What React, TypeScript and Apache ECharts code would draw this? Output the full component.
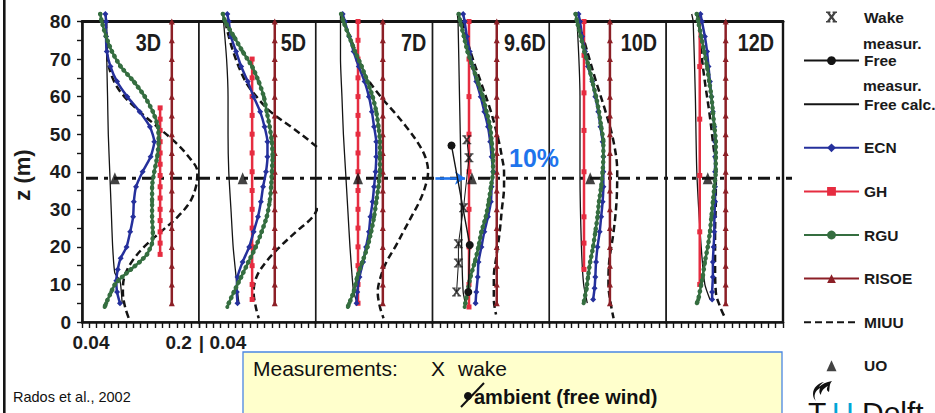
import React, { useEffect, useRef } from 'react';
import * as echarts from 'echarts';

// ---------- data ----------
const PANELS = ['3D', '5D', '7D', '9.6D', '10D', '12D'];
const Y_MIN = 0;
const Y_MAX = 80;
const X_MIN = 0.04;
const X_MAX = 0.2;
const HUB_Z = 38.3;
const HUB_X = [0, 1];

type Pt = [number, number]; // [turbulence intensity, z (m)]

const ECN_3D: Pt[] = [[0.072,82],[0.073,80],[0.073,76],[0.074,72],[0.079,68],[0.088,64],[0.102,60],[0.119,56],[0.133,52],[0.139,48],[0.134,44],[0.123,40],[0.114,36],[0.111,32],[0.110,28],[0.106,24],[0.101,20],[0.093,17],[0.089,14],[0.087,11],[0.088,8],[0.092,5]];
const ECN_5D: Pt[] = [[0.079,82],[0.081,80],[0.084,76],[0.091,72],[0.098,68],[0.107,64],[0.115,60],[0.124,56],[0.130,52],[0.134,48],[0.134,44],[0.132,40],[0.128,36],[0.125,32],[0.121,28],[0.115,24],[0.109,20],[0.100,16],[0.093,12],[0.092,8],[0.093,5]];
const ECN_7D: Pt[] = [[0.077,82],[0.080,80],[0.086,76],[0.092,72],[0.099,68],[0.107,64],[0.113,60],[0.117,56],[0.120,52],[0.123,48],[0.123,44],[0.122,40],[0.120,36],[0.118,32],[0.115,28],[0.113,24],[0.109,20],[0.105,16],[0.100,12],[0.097,8],[0.096,5]];
const ECN_96D: Pt[] = [[0.082,82],[0.084,80],[0.087,76],[0.091,72],[0.095,68],[0.100,64],[0.106,60],[0.111,56],[0.116,52],[0.119,48],[0.121,44],[0.123,40],[0.121,36],[0.120,32],[0.116,28],[0.111,24],[0.107,20],[0.103,16],[0.102,12],[0.100,8],[0.099,5]];
const ECN_10D: Pt[] = [[0.080,82],[0.082,80],[0.085,76],[0.089,72],[0.093,68],[0.099,64],[0.103,60],[0.107,56],[0.110,52],[0.113,48],[0.114,44],[0.114,40],[0.114,36],[0.113,32],[0.111,28],[0.109,24],[0.106,20],[0.104,16],[0.103,12],[0.102,9],[0.100,6]];
const ECN_12D: Pt[] = [[0.087,82],[0.089,80],[0.093,76],[0.096,72],[0.098,68],[0.100,64],[0.102,60],[0.104,56],[0.106,52],[0.107,48],[0.107,44],[0.107,40],[0.107,36],[0.107,32],[0.106,28],[0.106,24],[0.105,20],[0.104,16],[0.104,12],[0.103,8],[0.103,6]];

const RGU_3D: Pt[] = [[0.065,82],[0.067,80],[0.073,76],[0.081,72],[0.093,68],[0.111,64],[0.126,60],[0.137,56],[0.144,52],[0.145,48],[0.143,44],[0.139,40],[0.136,36],[0.136,32],[0.136,28],[0.137,24],[0.136,21],[0.129,18],[0.119,16],[0.107,14],[0.095,12],[0.085,10],[0.080,8],[0.073,5],[0.071,4]];
const RGU_5D: Pt[] = [[0.073,82],[0.076,80],[0.088,76],[0.100,72],[0.113,68],[0.122,64],[0.129,60],[0.133,56],[0.137,52],[0.140,48],[0.141,44],[0.140,40],[0.139,36],[0.137,32],[0.133,28],[0.126,24],[0.118,20],[0.108,16],[0.098,12],[0.088,8],[0.081,5],[0.079,4]];
const RGU_7D: Pt[] = [[0.075,82],[0.078,80],[0.086,76],[0.094,72],[0.103,68],[0.111,64],[0.118,60],[0.123,56],[0.126,52],[0.128,48],[0.128,44],[0.128,40],[0.126,36],[0.123,32],[0.120,28],[0.116,24],[0.111,20],[0.104,16],[0.097,12],[0.092,8],[0.086,5],[0.084,4]];
const RGU_96D: Pt[] = [[0.076,82],[0.078,80],[0.083,76],[0.088,72],[0.095,68],[0.102,64],[0.109,60],[0.114,56],[0.119,52],[0.121,48],[0.123,44],[0.123,40],[0.120,36],[0.117,32],[0.113,28],[0.107,24],[0.103,20],[0.098,16],[0.092,12],[0.088,8],[0.085,5],[0.084,4]];
const RGU_10D: Pt[] = [[0.076,82],[0.078,80],[0.083,76],[0.088,72],[0.094,68],[0.099,64],[0.104,60],[0.108,56],[0.111,52],[0.114,48],[0.114,44],[0.113,40],[0.111,36],[0.108,32],[0.106,28],[0.103,24],[0.100,20],[0.096,16],[0.093,12],[0.091,9],[0.087,5]];
const RGU_12D: Pt[] = [[0.082,82],[0.084,80],[0.088,76],[0.092,72],[0.096,68],[0.099,64],[0.102,60],[0.104,56],[0.106,52],[0.108,48],[0.108,44],[0.108,40],[0.106,36],[0.104,32],[0.102,28],[0.100,24],[0.097,20],[0.093,16],[0.090,12],[0.088,10],[0.084,6],[0.082,5]];

const FREE_3D: Pt[] = [[0.073,82],[0.074,76],[0.074,70],[0.075,60],[0.076,50],[0.078,40],[0.080,30],[0.082,20],[0.085,13],[0.092,11],[0.095,5]];
const FREE_5D: Pt[] = [[0.073,82],[0.078,70],[0.080,60],[0.080,50],[0.081,40],[0.084,30],[0.087,20],[0.091,12],[0.093,8],[0.095,5]];
const FREE_7D: Pt[] = [[0.074,82],[0.074,70],[0.076,60],[0.078,50],[0.081,40],[0.084,30],[0.087,20],[0.090,12],[0.092,8],[0.097,5]];
const FREE_96D: Pt[] = [[0.074,82],[0.075,80],[0.077,60],[0.079,40],[0.080,20],[0.082,8],[0.085,5]];
const FREE_10D: Pt[] = [[0.076,82],[0.078,80],[0.082,60],[0.082,40],[0.084,20],[0.087,10],[0.092,5]];
const FREE_12D: Pt[] = [[0.075,82],[0.077,80],[0.080,60],[0.082,40],[0.088,20],[0.093,10],[0.100,6]];

const MIUU_3D: Pt[] = [[0.073,80],[0.075,70],[0.084,64],[0.098,60],[0.119,56],[0.143,52],[0.167,48],[0.186,44],[0.198,40],[0.196,36],[0.188,32],[0.171,28],[0.148,24],[0.125,20],[0.108,16],[0.098,12],[0.096,8],[0.099,4],[0.106,0]];
const MIUU_5D: Pt[] = [[0.076,80],[0.087,72],[0.104,64],[0.119,60],[0.138,56],[0.166,52],[0.193,48],[0.215,44],[0.223,40],[0.219,36],[0.207,32],[0.196,28],[0.173,24],[0.151,20],[0.132,16],[0.119,12],[0.115,8],[0.118,4],[0.122,1]];
const MIUU_7D: Pt[] = [[0.078,80],[0.095,72],[0.107,66],[0.129,60],[0.147,56],[0.164,52],[0.179,48],[0.190,44],[0.194,40],[0.190,36],[0.182,32],[0.171,28],[0.160,24],[0.149,20],[0.137,16],[0.129,12],[0.125,8],[0.128,4],[0.133,1]];
const MIUU_96D: Pt[] = [[0.081,80],[0.092,72],[0.106,64],[0.120,56],[0.131,48],[0.135,44],[0.138,40],[0.138,36],[0.135,30],[0.132,24],[0.128,18],[0.124,12],[0.124,6],[0.127,2]];
const MIUU_10D: Pt[] = [[0.080,80],[0.092,72],[0.104,64],[0.117,56],[0.128,48],[0.133,40],[0.132,32],[0.128,24],[0.122,16],[0.121,10],[0.124,5],[0.128,1]];
const MIUU_12D: Pt[] = [[0.084,82],[0.088,72],[0.093,64],[0.099,56],[0.104,48],[0.108,40],[0.108,32],[0.107,24],[0.107,16],[0.108,8],[0.114,4],[0.121,1]];

// vertical model profiles: one value per panel, markers at these heights
const RISOE_TI = [0.163, 0.144, 0.132, 0.128, 0.123, 0.1215];
const RISOE_Z = [5, 10, 15, 20, 25, 30, 35, 40, 45, 50, 55, 60, 65, 70, 75, 80];
const GH_TI = [0.147, 0.113, 0.098, 0.090, 0.0875, 0.086];
const GH_Z_3D = [57, 54, 51, 48, 45, 42, 39, 36, 33, 30, 27, 24, 21, 18];
const GH_Z_5D = [70, 65, 60, 55, 50, 45, 40, 35, 30, 25, 20, 15, 10, 6];
const GH_Z_7D = [80, 75, 70, 65, 60, 55, 50, 45, 40, 35, 30, 25, 20, 15, 10, 5];
const GH_Z_96D = [80, 70, 60, 50, 40, 30, 20, 10, 4];
const GH_Z_10D = [80, 71, 61, 51, 40, 28, 21, 14];
const GH_Z_12D = [80, 68, 54, 39, 24, 10];
const UO_TI = [0.085, 0.100, 0.098, 0.094, 0.096, 0.097];

// measurements at 9.6D
const WAKE_96D: Pt[] = [[0.087,48.5],[0.090,43.7],[0.0825,30.4],[0.0755,20.8],[0.0755,15.7],[0.073,8]];
const FREE_MEAS_96D: Pt[] = [[0.066,47],[0.091,20.5],[0.089,8]];
const ARROW_FROM = 0.044;
const ARROW_TO = 0.0845;

const LEGEND_NAMES = ['Wake measur.', 'Free measur.', 'Free calc.', 'ECN', 'GH', 'RGU', 'RISOE', 'MIUU', 'UO'];
const LEGEND_SHORT: Record<string, string> = { 'Wake measur.': 'Wake', 'Free measur.': 'Free' };

const ECN = [ECN_3D, ECN_5D, ECN_7D, ECN_96D, ECN_10D, ECN_12D];
const RGU = [RGU_3D, RGU_5D, RGU_7D, RGU_96D, RGU_10D, RGU_12D];
const FREE = [FREE_3D, FREE_5D, FREE_7D, FREE_96D, FREE_10D, FREE_12D];
const MIUU = [MIUU_3D, MIUU_5D, MIUU_7D, MIUU_96D, MIUU_10D, MIUU_12D];
const GH_Z = [GH_Z_3D, GH_Z_5D, GH_Z_7D, GH_Z_96D, GH_Z_10D, GH_Z_12D];

// ---------- layout / style ----------
const PLOT_LEFT = 82;
const PANEL_W = 116.83;
const PLOT_TOP = 21.5;
const PLOT_H = 300.5;
const PANEL_LABEL_X = [148.5, 293.5, 413.7, 525, 639, 756];
const SANS = '"Liberation Sans", Arial, Helvetica, sans-serif';
const C_ECN = '#25309c';
const C_GH = '#e62c40';
const C_RGU = '#356e40';
const C_RISOE = '#8c1f26';
const C_BLK = '#141414';
const C_BLUE = '#1f74ec';

const X_PATH = 'path://M0,0 L2.6,0 L5,3.4 L7.4,0 L10,0 L6.4,5 L10,10 L7.4,10 L5,6.6 L2.6,10 L0,10 L3.6,5 Z M0,0 L4,0 L4,1.3 L0,1.3 Z M6,0 L10,0 L10,1.3 L6,1.3 Z M0,8.7 L4,8.7 L4,10 L0,10 Z M6,8.7 L10,8.7 L10,10 L6,10 Z';
const TRI_PATH = 'path://M5,0 L10,11 L0,11 Z';

const FLAME_D = 'M4 20 C1 15 3 10 8 7 C7 10 7 12 9 14 C9 10 12 7 16 5 C14 8 15 10 17 11 C18 7 17 3 20 0 C14 1 10 3 7 6 C8 4 10 2 12 1 C6 2 1 7 1 13 C1 16 2 18 4 20 Z';
let flameRegistered = false;
function ensureFlame() {
  if (flameRegistered) return;
  echarts.graphic.registerShape('tuflame', echarts.graphic.extendPath(FLAME_D, {}) as any);
  flameRegistered = true;
}

const near = (a: number, b: number) => Math.abs(a - b) < 1e-6;

function buildOption(): any {
  const grids: any[] = PANELS.map((_, i) => ({
    left: PLOT_LEFT + i * PANEL_W, top: PLOT_TOP, width: PANEL_W, height: PLOT_H,
    show: true, borderColor: '#1a1a1a', borderWidth: 1.4, backgroundColor: 'transparent',
    containLabel: false, outerBoundsMode: 'none',
  }));
  grids.push({ left: 86, top: PLOT_TOP, width: 706, height: PLOT_H, show: false, containLabel: false, outerBoundsMode: 'none' });

  const labelFont = { fontFamily: SANS, fontWeight: 'bold', fontSize: 19, color: '#1c1c1c' };

  const xAxes: any[] = [];
  PANELS.forEach((_, i) => {
    xAxes.push({
      type: 'value', gridIndex: i, position: 'bottom', min: X_MIN, max: X_MAX, interval: 0.01,
      axisLine: { show: true, onZero: false, lineStyle: { color: C_BLK, width: 2.6 } },
      axisTick: { show: true, inside: false, length: 6, lineStyle: { color: C_BLK, width: 1.4 } },
      splitLine: { show: false },
      axisLabel: {
        show: i < 2, margin: 11, ...labelFont,
        alignMinLabel: i === 0 ? 'center' : 'left', alignMaxLabel: 'right',
        formatter: (v: number) => {
          if (i === 0 && near(v, X_MIN)) return '{l|0.04}';
          if (i === 0 && near(v, X_MAX)) return '{r|0.2}';
          if (i === 1 && near(v, X_MIN)) return '{n|| 0.04}';
          return '';
        },
        rich: {
          l: { ...labelFont, padding: [0, 0, 0, 18] },
          r: { ...labelFont, padding: [0, 7, 0, 0] },
          n: { ...labelFont },
        },
      },
    });
  });
  PANELS.forEach((_, i) => {
    xAxes.push({
      type: 'value', gridIndex: i, position: 'top', min: X_MIN, max: X_MAX,
      axisLine: { show: true, onZero: false, lineStyle: { color: C_BLK, width: 3 } },
      axisTick: { show: false }, axisLabel: { show: false }, splitLine: { show: false },
    });
  });
  xAxes.push({ type: 'value', gridIndex: 6, min: 0, max: 1, show: false });

  const yAxes: any[] = PANELS.map((_, i) => ({
    type: 'value', gridIndex: i, min: Y_MIN, max: Y_MAX, interval: 5, show: i === 0, position: 'left',
    axisLine: { show: true, onZero: false, lineStyle: { color: C_BLK, width: 2.6 } },
    axisTick: { show: true, inside: false, length: 5, lineStyle: { color: C_BLK, width: 1.4 } },
    splitLine: { show: false },
    axisLabel: { show: true, margin: 11, ...labelFont, formatter: (v: number) => (v % 10 === 0 ? String(v) : '') },
  }));
  yAxes.push({ type: 'value', gridIndex: 6, min: Y_MIN, max: Y_MAX, show: false });
  yAxes.push({
    type: 'value', gridIndex: 5, min: Y_MIN, max: Y_MAX, position: 'right',
    axisLine: { show: true, onZero: false, lineStyle: { color: C_BLK, width: 2.4 } },
    axisTick: { show: false }, axisLabel: { show: false }, splitLine: { show: false },
  });

  const series: any[] = [];
  series.push({
    type: 'line', name: 'hub', xAxisIndex: 12, yAxisIndex: 6, silent: true, symbol: 'none',
    data: HUB_X.map((x) => [x, HUB_Z]),
    lineStyle: { color: C_BLK, width: 3, type: [12, 6, 4, 6] }, z: 1,
  });

  PANELS.forEach((_, i) => {
    const base = { xAxisIndex: i, yAxisIndex: i, clip: false };
    series.push({
      ...base, type: 'line', name: 'Free calc.', data: FREE[i], symbol: 'none', smooth: 0.2,
      lineStyle: { color: C_BLK, width: 1.3 }, itemStyle: { color: C_BLK }, z: 2,
    });
    series.push({
      ...base, type: 'line', name: 'MIUU', data: MIUU[i], symbol: 'none', smooth: 0.35,
      lineStyle: { color: C_BLK, width: 2.5, type: [7, 4] }, itemStyle: { color: C_BLK }, z: 3,
    });
    series.push({
      ...base, type: 'line', name: 'RISOE', data: RISOE_Z.map((z) => [RISOE_TI[i], z]),
      symbol: 'triangle', symbolSize: 6, lineStyle: { color: C_RISOE, width: 2.5 }, itemStyle: { color: C_RISOE }, z: 4,
    });
    series.push({
      ...base, type: 'line', name: 'GH', data: GH_Z[i].map((z) => [GH_TI[i], z]),
      symbol: 'rect', symbolSize: 5, lineStyle: { color: C_GH, width: 2.5 }, itemStyle: { color: C_GH }, z: 5,
    });
    series.push({
      ...base, type: 'line', name: 'ECN', data: ECN[i], symbol: 'diamond', symbolSize: 6, smooth: 0.2,
      lineStyle: { color: C_ECN, width: 2.5 }, itemStyle: { color: C_ECN }, z: 6,
    });
    series.push({
      ...base, type: 'line', name: 'RGU', data: RGU[i], symbol: 'circle', symbolSize: 4, smooth: 0.2,
      lineStyle: { color: C_RGU, width: 2.6 }, itemStyle: { color: C_RGU }, z: 7,
    });
    series.push({
      ...base, type: 'line', name: 'RGU beads', data: RGU[i], symbol: 'none', smooth: 0.2, silent: true,
      lineStyle: { color: C_RGU, width: 4.6, type: [0.1, 5.5], cap: 'round' }, z: 7,
    });
    series.push({
      ...base, type: 'scatter', name: 'UO', data: [[UO_TI[i], HUB_Z]], symbol: TRI_PATH, symbolSize: [11, 12],
      symbolKeepAspect: true, itemStyle: { color: C_BLK }, z: 9,
    });
  });

  // measurements at 9.6D (panel index 3)
  series.push({
    xAxisIndex: 3, yAxisIndex: 3, clip: false, type: 'line', name: 'Wake link', data: WAKE_96D,
    symbol: 'none', silent: true, lineStyle: { color: C_BLK, width: 1 }, z: 8,
  });
  series.push({
    xAxisIndex: 3, yAxisIndex: 3, clip: false, type: 'scatter', name: 'Wake measur.', data: WAKE_96D,
    symbol: X_PATH, symbolSize: 9, itemStyle: { color: C_BLK }, z: 9,
  });
  series.push({
    xAxisIndex: 3, yAxisIndex: 3, clip: false, type: 'line', name: 'Free measur.', data: FREE_MEAS_96D,
    symbol: 'circle', symbolSize: 8, lineStyle: { color: C_BLK, width: 1.4 }, itemStyle: { color: C_BLK }, z: 9,
    markLine: {
      silent: true, symbol: ['none', 'arrow'], symbolSize: 10, label: { show: false },
      lineStyle: { color: C_BLUE, width: 2.6, type: 'solid' },
      data: [[{ coord: [ARROW_FROM, HUB_Z] }, { coord: [ARROW_TO, HUB_Z] }]],
    },
  });

  const legendText = { fontFamily: SANS, fontWeight: 'bold', fontSize: 15.5, fill: '#1a1a1a' };

  const graphic: any[] = [
    { type: 'rect', shape: { x: 3, y: 0, width: 2.6, height: 413 }, style: { fill: C_BLK }, silent: true },
    {
      type: 'text', x: 22, y: 175, rotation: Math.PI / 2,
      style: { text: 'z (m)', fontFamily: SANS, fontWeight: 'bold', fontSize: 22, fill: '#1c1c1c', align: 'center', verticalAlign: 'middle' },
    },
    ...PANELS.map((p, i) => ({
      type: 'text', x: PANEL_LABEL_X[i], y: 43, scaleX: 0.86,
      style: { text: p, fontFamily: SANS, fontWeight: 'bold', fontSize: 23, fill: '#1c1c1c', align: 'center', verticalAlign: 'middle' },
    })),
    {
      type: 'text', x: 534, y: 158,
      style: { text: '10%', fontFamily: SANS, fontWeight: 'bold', fontSize: 25, fill: C_BLUE, align: 'center', verticalAlign: 'middle' },
    },
    { type: 'text', x: 863, y: 43, style: { text: 'measur.', ...legendText, verticalAlign: 'middle' } },
    { type: 'text', x: 863, y: 85, style: { text: 'measur.', ...legendText, verticalAlign: 'middle' } },
    {
      type: 'rect', shape: { x: 243, y: 352, width: 539, height: 70 },
      style: { fill: '#ffffcc', stroke: '#4a86e2', lineWidth: 1.3 },
    },
    { type: 'text', x: 253, y: 368, style: { text: 'Measurements:', fontFamily: SANS, fontSize: 21, fill: '#111', verticalAlign: 'middle' } },
    { type: 'text', x: 431, y: 368, style: { text: 'X', fontFamily: SANS, fontSize: 21, fill: '#111', verticalAlign: 'middle' } },
    { type: 'text', x: 458, y: 368, style: { text: 'wake', fontFamily: SANS, fontSize: 21, fill: '#111', verticalAlign: 'middle' } },
    { type: 'line', shape: { x1: 461, y1: 407, x2: 484, y2: 383 }, style: { stroke: '#111', lineWidth: 2 } },
    { type: 'circle', shape: { cx: 468, cy: 396, r: 4 }, style: { fill: '#111' } },
    { type: 'text', x: 474, y: 397, style: { text: 'ambient (free wind)', fontFamily: SANS, fontWeight: 'bold', fontSize: 20, fill: '#111', verticalAlign: 'middle' } },
    { type: 'text', x: 13, y: 397, style: { text: 'Rados et al., 2002', fontFamily: SANS, fontSize: 14.5, fill: '#111', verticalAlign: 'middle' } },
    { type: 'tuflame', x: 812, y: 381, scaleX: 1, scaleY: 1, style: { fill: '#111' } },
    { type: 'text', x: 808, y: 397, style: { text: 'T', fontFamily: SANS, fontSize: 30, fill: '#111' } },
    { type: 'text', x: 832, y: 397, style: { text: 'U', fontFamily: SANS, fontSize: 30, fill: '#00a6d6' } },
    { type: 'text', x: 862, y: 397, style: { text: 'Delft', fontFamily: SANS, fontSize: 30, fill: '#111' } },
  ];

  return {
    animation: false,
    backgroundColor: '#ffffff',
    textStyle: { fontFamily: SANS },
    grid: grids,
    xAxis: xAxes,
    yAxis: yAxes,
    legend: {
      show: true, orient: 'vertical', left: 803, top: 8, padding: 0,
      itemWidth: 55, itemHeight: 11, itemGap: 25.6, selectedMode: false,
      textStyle: { fontFamily: SANS, fontWeight: 'bold', fontSize: 15.5, color: '#1a1a1a', lineHeight: 18 },
      formatter: (n: string) => LEGEND_SHORT[n] ?? n,
      data: LEGEND_NAMES.map((n) =>
        n === 'Free calc.' || n === 'MIUU' ? { name: n, itemStyle: { opacity: 0 } } : { name: n }
      ),
    },
    series,
    graphic,
  };
}

export default function App() {
  const ref = useRef<HTMLDivElement>(null);
  useEffect(() => {
    if (!ref.current) return;
    ensureFlame();
    const chart = echarts.init(ref.current, undefined, { renderer: 'svg', width: 935, height: 413 });
    chart.setOption(buildOption());
    return () => chart.dispose();
  }, []);
  return (
    <div
      ref={ref}
      style={{ position: 'absolute', left: 0, top: 0, width: 935, height: 413, background: '#fff', overflow: 'hidden' }}
    />
  );
}
